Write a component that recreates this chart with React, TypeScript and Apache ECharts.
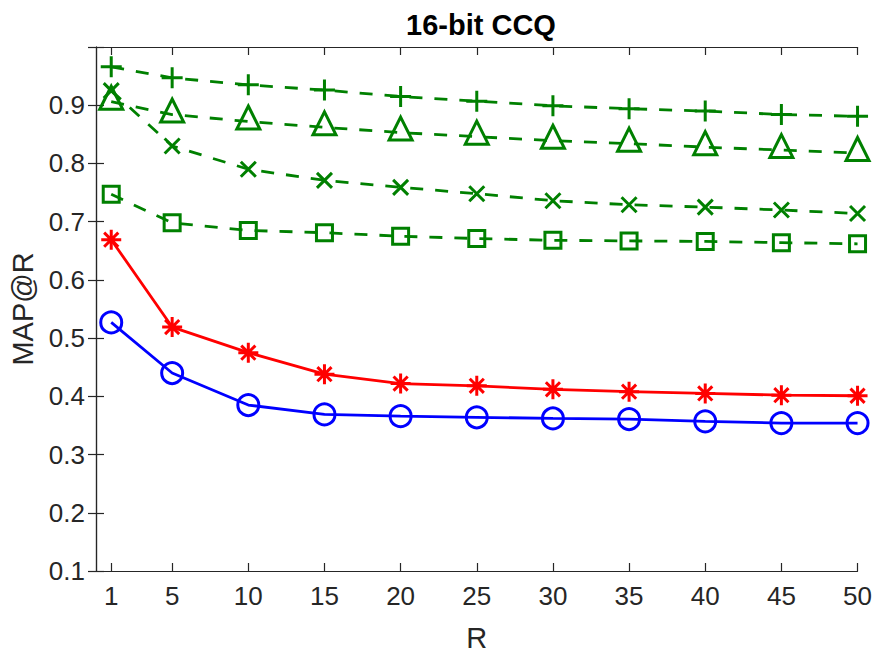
import React, { useEffect, useRef } from "react";
import * as echarts from "echarts";

const rValues = [1, 5, 10, 15, 20, 25, 30, 35, 40, 45, 50];
const xTicks = [1, 5, 10, 15, 20, 25, 30, 35, 40, 45, 50];

const plusSeries = [0.966, 0.947, 0.935, 0.926, 0.915, 0.907, 0.899, 0.894, 0.89, 0.884, 0.881];
const triangleSeries = [0.906, 0.884, 0.872, 0.862, 0.853, 0.846, 0.839, 0.834, 0.828, 0.823, 0.818];
const crossSeries = [0.925, 0.83, 0.79, 0.771, 0.759, 0.748, 0.736, 0.729, 0.725, 0.72, 0.714];
const squareSeries = [0.747, 0.698, 0.685, 0.681, 0.675, 0.671, 0.668, 0.667, 0.666, 0.664, 0.662];
const starSeries = [0.669, 0.519, 0.475, 0.438, 0.422, 0.418, 0.412, 0.408, 0.405, 0.402, 0.401];
const circleSeries = [0.527, 0.44, 0.385, 0.369, 0.366, 0.364, 0.362, 0.361, 0.357, 0.354, 0.354];

const GREEN = "#008000";
const RED = "#ff0000";
const BLUE = "#0000ff";
const INK = "#262626";
const FONT = "'Liberation Sans', Arial, Helvetica, sans-serif";

const PLUS = "path://M10,0L10,20M0,10L20,10";
const CROSS = "path://M0,0L20,20M20,0L0,20";
const STAR =
  "path://M10,0L10,20M0,10L20,10M2.93,2.93L17.07,17.07M17.07,2.93L2.93,17.07";

const toPairs = (ys: number[]) => rValues.map((r, i) => [r, ys[i]]);

function lineSeries(
  ys: number[],
  color: string,
  symbol: string,
  size: number,
  dashed: boolean,
  extra: Record<string, unknown> = {}
) {
  return {
    type: "line",
    data: toPairs(ys),
    clip: false,
    symbol,
    symbolSize: size,
    showAllSymbol: true,
    lineStyle: {
      color,
      width: 2.8,
      type: dashed ? [13, 12] : "solid",
    },
    itemStyle: {
      color: "rgba(0,0,0,0)",
      borderColor: color,
      borderWidth: 3,
    },
    emphasis: { disabled: true },
    ...extra,
  };
}

export default function App() {
  const ref = useRef<HTMLDivElement>(null);

  useEffect(() => {
    if (!ref.current) return;
    const chart = echarts.init(ref.current, undefined, { renderer: "svg" });

    const tickStyle = { show: true, inside: true, length: 8, lineStyle: { color: INK, width: 1.2 } };
    const lineAxis = { show: true, lineStyle: { color: INK, width: 1.2 } };

    chart.setOption({
      animation: false,
      backgroundColor: "#ffffff",
      title: {
        text: "16-bit CCQ",
        left: 476,
        textAlign: "center",
        top: 5,
        textStyle: { fontFamily: FONT, fontSize: 29, fontWeight: "bold", color: "#000" },
      },
      grid: { left: 93, right: 16, top: 47, bottom: 85, containLabel: false },
      xAxis: [
        {
          type: "value",
          min: 0,
          max: 50,
          name: "R",
          nameLocation: "middle",
          nameGap: 52,
          nameTextStyle: { fontFamily: FONT, fontSize: 29, color: INK },
          axisLine: lineAxis,
          axisTick: { ...tickStyle, customValues: xTicks },
          axisLabel: {
            customValues: xTicks,
            fontFamily: FONT,
            fontSize: 26,
            color: INK,
            margin: 12,
          },
          splitLine: { show: false },
        },
        {
          type: "value",
          min: 0,
          max: 50,
          position: "top",
          axisLine: lineAxis,
          axisTick: { ...tickStyle, customValues: xTicks },
          axisLabel: { show: false },
          splitLine: { show: false },
        },
      ],
      yAxis: [
        {
          type: "value",
          min: 0.1,
          max: 1,
          interval: 0.1,
          name: "MAP@R",
          nameLocation: "middle",
          nameGap: 59,
          nameTextStyle: { fontFamily: FONT, fontSize: 29, color: INK },
          axisLine: lineAxis,
          axisTick: tickStyle,
          axisLabel: {
            fontFamily: FONT,
            fontSize: 26,
            color: INK,
            margin: 11,
            formatter: (v: number) => (v > 0.95 ? "" : v.toFixed(1)),
          },
          splitLine: { show: false },
        },
        {
          type: "value",
          min: 0.1,
          max: 1,
          interval: 0.1,
          position: "right",
          axisLine: lineAxis,
          axisTick: tickStyle,
          axisLabel: { show: false },
          splitLine: { show: false },
        },
      ],
      series: [
        lineSeries(plusSeries, GREEN, PLUS, 21, true),
        lineSeries(triangleSeries, GREEN, "triangle", 23, true, { symbolOffset: [0, -4] }),
        lineSeries(crossSeries, GREEN, CROSS, 15, true),
        lineSeries(squareSeries, GREEN, "rect", 16, true),
        lineSeries(starSeries, RED, STAR, 20, false),
        lineSeries(circleSeries, BLUE, "circle", 21, false),
      ],
    });

    return () => chart.dispose();
  }, []);

  return (
    <div
      ref={ref}
      style={{ position: "fixed", left: 0, top: 0, width: 875, height: 657, background: "#fff" }}
    />
  );
}
